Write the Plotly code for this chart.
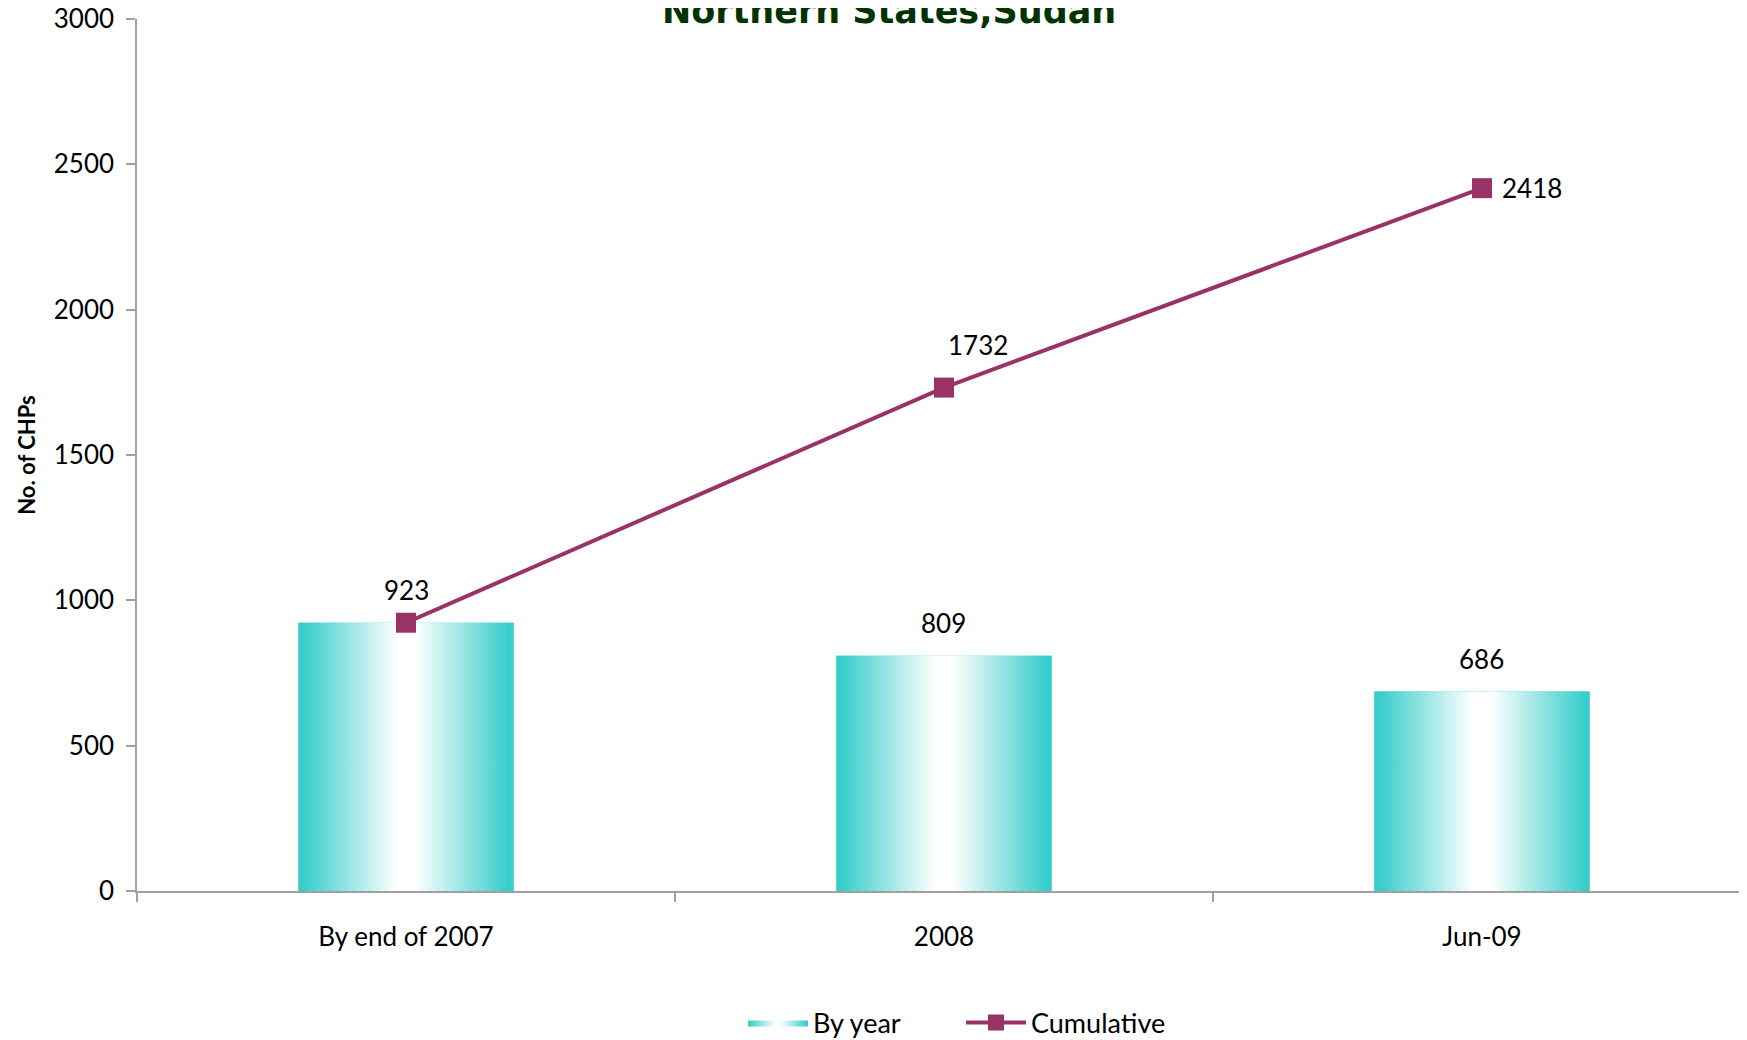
import plotly.graph_objects as go

categories = ["By end of 2007", "2008", "Jun-09"]
by_year = [923, 809, 686]
cumulative = [923, 1732, 2418]
y_ticks = [0, 500, 1000, 1500, 2000, 2500, 3000]

TEAL = "#36CDCA"
LINE = "#993366"
FONT = "Lato"
x_pos = list(range(len(categories)))
half = 0.2

fig = go.Figure()

# base bars
fig.add_trace(go.Bar(x=x_pos, y=by_year, width=2 * half, marker=dict(color=TEAL, line=dict(width=0)),
                     name="By year", showlegend=False, hoverinfo="skip"))

# gradient overlay for each bar, derived from the bar values
grad = [[0, TEAL], [0.02, TEAL], [0.46, "#FFFFFF"], [0.54, "#FFFFFF"], [0.98, TEAL], [1, TEAL]]
for i, v in enumerate(by_year):
    fig.add_trace(go.Scatter(
        x=[i - half, i + half, i + half, i - half, i - half],
        y=[0, 0, v, v, 0],
        mode="lines", fill="toself", line=dict(width=0),
        fillgradient=dict(type="horizontal", colorscale=grad),
        name="By year", showlegend=(i == 0), legendgroup="by", hoverinfo="skip"))

fig.add_trace(go.Scatter(x=x_pos, y=cumulative, mode="lines+markers", name="Cumulative",
                         line=dict(color=LINE, width=4),
                         marker=dict(symbol="square", size=20, color=LINE)))

ann = []
for i, v in enumerate(by_year):
    ann.append(dict(x=i, y=v, text=str(v), showarrow=False, yanchor="middle", yshift=33,
                    font=dict(size=26, color="#000000", family=FONT)))
line_offsets = {1: (34, 43), 2: (50, 0)}
for i, (dx, dy) in line_offsets.items():
    ann.append(dict(x=i, y=cumulative[i], text=str(cumulative[i]), showarrow=False,
                    xshift=dx, yshift=dy, font=dict(size=26, color="#000000", family=FONT)))
ann.append(dict(x=0.467, xref="paper", y=1, yref="paper", yanchor="middle", yshift=8,
                text="<b>Northern States,Sudan</b>", showarrow=False,
                font=dict(size=35, color="#003300", family="DejaVu Sans")))

fig.update_layout(
    width=1747, height=1040,
    margin=dict(l=129, r=8, t=11, b=157, autoexpand=False),
    paper_bgcolor="white", plot_bgcolor="white",
    font=dict(family=FONT, size=26, color="#000000"),
    annotations=ann,
    showlegend=True,
    legend=dict(orientation="h", x=735 / 1747, xanchor="left", xref="container",
                y=25 / 1040, yanchor="middle", yref="container",
                font=dict(size=27, family=FONT), itemwidth=60,
                entrywidth=143, entrywidthmode="pixels"),
    xaxis=dict(range=[-0.5, 2.4926], tickmode="array", tickvals=x_pos, ticktext=categories,
               ticks="", showline=True, linecolor="#A0A0A0", linewidth=1.5,
               showgrid=False, zeroline=False, ticklabelstandoff=22, automargin=False,
               tickfont=dict(size=26), ticklabeloverflow="allow",
               minor=dict(tickmode="array", tickvals=[-0.5, 0.5, 1.5], ticks="outside",
                          ticklen=9, tickcolor="#A0A0A0", tickwidth=1.5, showgrid=False)),
    yaxis=dict(range=[0, 3000], tickmode="array", tickvals=y_ticks, ticks="outside", ticklen=9,
               tickcolor="#A0A0A0", tickwidth=1.5, showline=True, linecolor="#A0A0A0",
               linewidth=1.5, showgrid=False, zeroline=False, ticklabelstandoff=7,
               tickfont=dict(size=26), ticklabeloverflow="allow", automargin=False,
               title=dict(text="<b>No. of CHPs</b>", font=dict(size=22, family=FONT), standoff=12)),
)

fig.write_html("out.html")
